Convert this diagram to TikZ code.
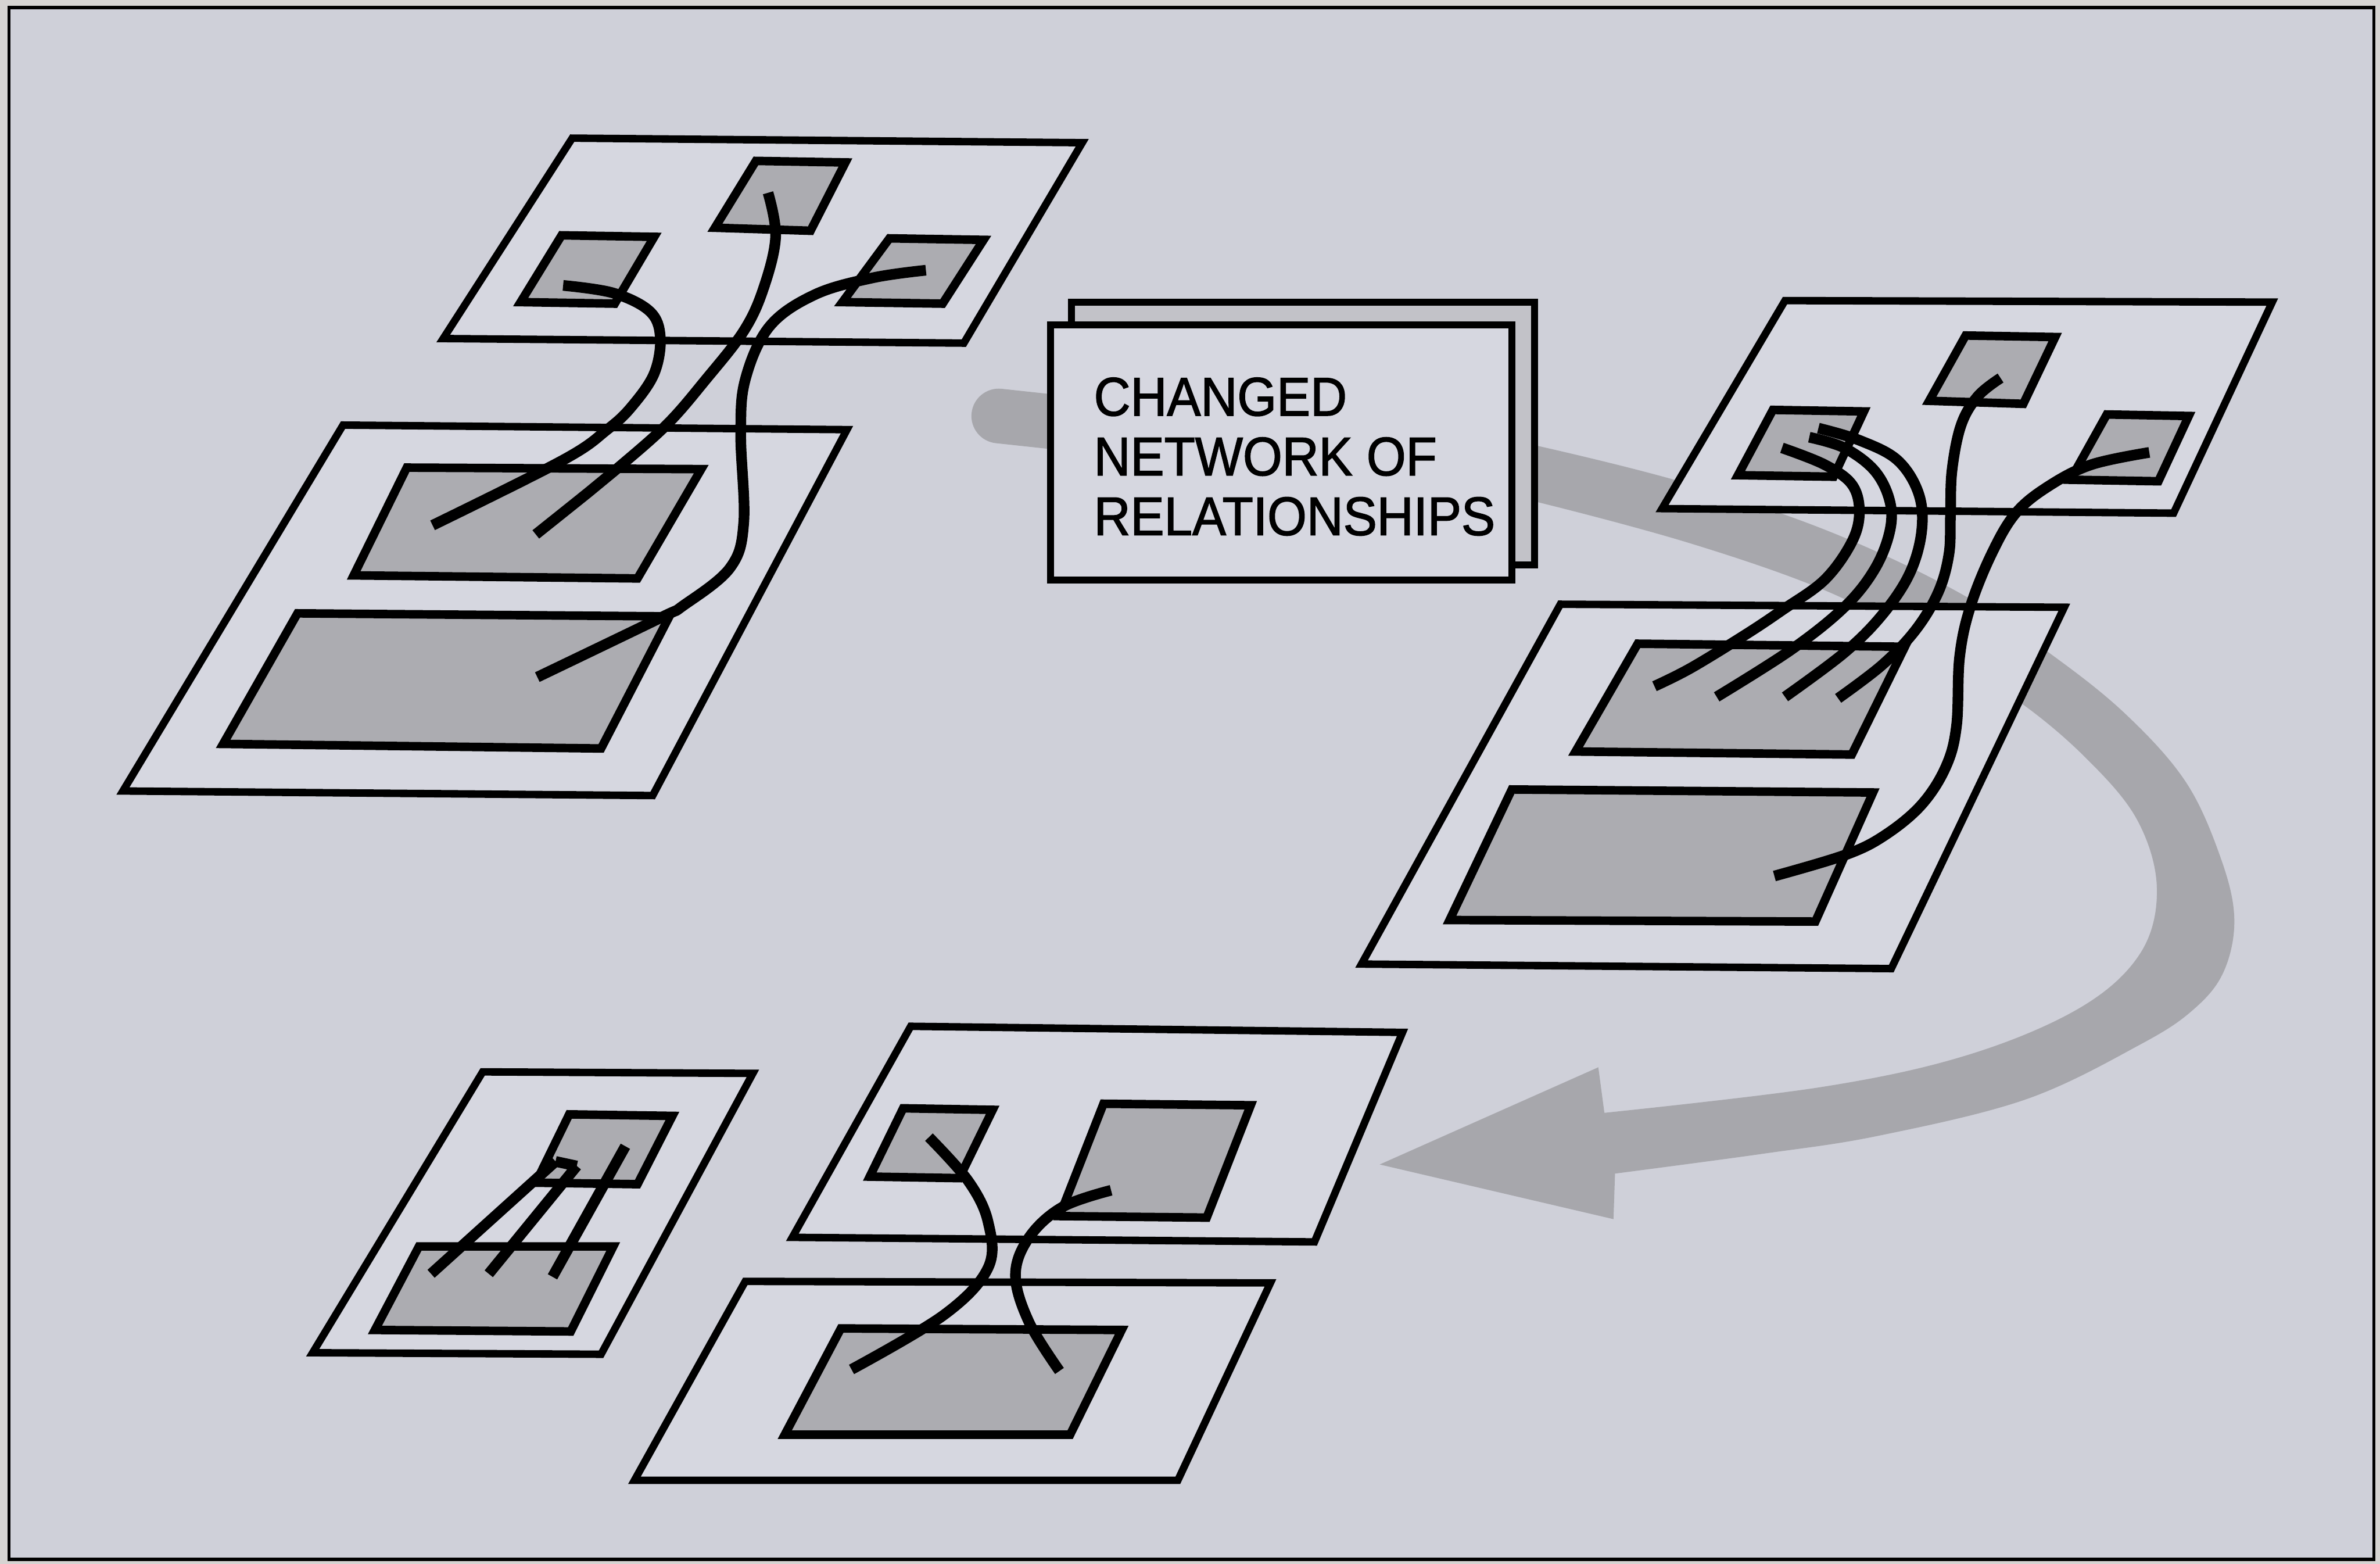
\documentclass[tikz,border=0pt]{standalone}
\usepackage{fontspec}
\newfontfamily\boxfont[FakeStretch=0.93, FakeBold=1.6]{Liberation Sans}

\definecolor{margin}{RGB}{214,212,210}
\definecolor{paper}{RGB}{207,208,217}
\definecolor{sheet}{RGB}{214,215,224}
\definecolor{backsheet}{RGB}{194,194,200}
\definecolor{shade}{RGB}{172,172,177}
\definecolor{bandgray}{RGB}{167,167,172}

\begin{document}
\begin{tikzpicture}[
  x=0.1mm, y=-0.1mm,
  plane/.style = {draw=black, fill=sheet, line width=1.4pt, line join=miter},
  patch/.style = {draw=black, fill=shade, line width=1.6pt, line join=miter},
  page/.style  = {draw=black, line width=1.3pt},
  wire/.style  = {draw=black, line width=2pt},
  smoothwire/.style = {wire, smooth, tension=0.6},
]
\useasboundingbox (0,0) rectangle (1568,1030);
\fill[margin] (0,0) rectangle (1568,1030);
\draw[fill=paper, line width=0.6pt] (6,5) rectangle (1564,1027);

% grey loop arrow, drawn first so the planes and the card cover it
\draw[bandgray, line width=3.6mm, line cap=round] (658,274) -- (1000,311);
\fill[bandgray]
  plot[smooth, tension=0.6] coordinates {(990,291) (1010,293) (1110,318) (1205,350) (1290,390)
    (1350,430) (1400,470) (1440,515) (1463,565) (1472,605) (1465,640) (1445,665)
    (1410,688) (1335,724) (1238,748) (1161,760) (1064,773)}
  -- (1063,803) -- (909,767) -- (1053,703) -- (1057,733)
  -- plot[smooth, tension=0.6] coordinates {(1057,733) (1200,716) (1296,695) (1370,664)
    (1410,628) (1421,585) (1408,540) (1375,500) (1330,462) (1270,425) (1205,390)
    (1114,358) (1010,330) (990,328)}
  -- cycle;

% top left: two layers
\draw[plane] (377,91) -- (713,94) -- (635,226) -- (292,223) -- cycle;
\draw[patch] (498,106) -- (557,107) -- (534,152) -- (471,150) -- cycle;
\draw[patch] (370,155) -- (431,156) -- (405,200) -- (343,199) -- cycle;
\draw[patch] (586,157) -- (648,158) -- (621,200) -- (555,199) -- cycle;
\draw[plane] (226,280) -- (558,283) -- (430,524) -- (81,521) -- cycle;
\draw[patch] (268,308) -- (462,309) -- (420,381) -- (233,379) -- cycle;
\draw[patch] (196,404) -- (441,406) -- (396,493) -- (147,490) -- cycle;

% right: two layers
\draw[plane] (1176,198) -- (1497,199) -- (1432,338) -- (1095,335) -- cycle;
\draw[patch] (1295,221) -- (1354,222) -- (1333,266) -- (1271,264) -- cycle;
\draw[patch] (1168,270) -- (1228,271) -- (1208,314) -- (1145,313) -- cycle;
\draw[patch] (1388,273) -- (1442,274) -- (1422,317) -- (1364,316) -- cycle;
\draw[plane] (1028,398) -- (1360,400) -- (1246,638) -- (897,635) -- cycle;
\draw[patch] (1079,424) -- (1255,426) -- (1220,497) -- (1038,495) -- cycle;
\draw[patch] (996,520) -- (1234,522) -- (1196,607) -- (955,606) -- cycle;

% bottom: small pair and split pair
\draw[plane] (318,706) -- (496,707) -- (396,892) -- (206,891) -- cycle;
\draw[patch] (375,734) -- (443,735) -- (420,780) -- (353,779) -- cycle;
\draw[patch] (276,821) -- (404,821) -- (376,877) -- (247,876) -- cycle;
\draw[plane] (600,676) -- (924,680) -- (866,818) -- (522,815) -- cycle;
\draw[patch] (595,730) -- (654,731) -- (632,776) -- (573,775) -- cycle;
\draw[patch] (727,727) -- (824,728) -- (795,802) -- (698,801) -- cycle;
\draw[plane] (491,844) -- (837,845) -- (776,975) -- (418,975) -- cycle;
\draw[patch] (554,875) -- (739,876) -- (705,945) -- (517,945) -- cycle;

% the card
\draw[page, fill=backsheet] (706,199) rectangle (1011,372);
\draw[page, fill=sheet] (692,214) rectangle (996,382);
\node[font=\boxfont\fontsize{10.2}{11.2}\selectfont, align=left, inner sep=0pt,
      anchor=north west] (caption) at (720,248) {CHANGED\\NETWORK OF\\RELATIONSHIPS};

% links, top left
\draw[smoothwire] plot coordinates {(371,188) (404,193) (428,205) (435,222) (431,246) (416,268) (400,283) (371,303) (285,346)};
\draw[smoothwire] plot coordinates {(506,127) (511,156) (503,190) (490,218) (465,250) (439,280) (405,310) (388,324) (353,352)};
\draw[smoothwire] plot coordinates {(610,178) (575,183) (537,194) (507,215) (491,250) (488,286) (490,344) (481,374) (450,399) (435,407) (354,446)};

% links, right
\draw[smoothwire] plot coordinates {(1174,295) (1202,306) (1220,319) (1225,337) (1220,357) (1202,382) (1174,402) (1150,418) (1114,440) (1090,452)};
\draw[smoothwire] plot coordinates {(1192,288) (1215,295) (1235,310) (1245,330) (1245,350) (1235,375) (1215,400) (1180,428) (1131,459)};
\draw[smoothwire] plot coordinates {(1198,282) (1225,290) (1250,303) (1264,325) (1266,350) (1258,378) (1240,405) (1215,430) (1176,459)};
\draw[smoothwire] plot coordinates {(1318,249) (1303,261) (1292,280) (1286,310) (1285,340) (1284,365) (1277,390) (1262,415) (1240,438) (1211,460)};
\draw[smoothwire] plot coordinates {(1416,298) (1378,306) (1350,320) (1328,338) (1312,365) (1298,400) (1291,433) (1289,478) (1282,505) (1266,530) (1242,550) (1216,563) (1169,577)};

% links, bottom
\draw[wire] (366,765) -- (380,768);
\draw[wire] (366,765) -- (284,839);
\draw[wire] (380,768) -- (322,839);
\draw[wire] (412,755) -- (364,841);
\draw[smoothwire] plot coordinates {(612,749) (638,778) (651,805) (651,835) (622,866) (561,902)};
\draw[smoothwire] plot coordinates {(732,784) (700,795) (678,815) (669,840) (678,871) (698,903)};
\end{tikzpicture}
\end{document}
